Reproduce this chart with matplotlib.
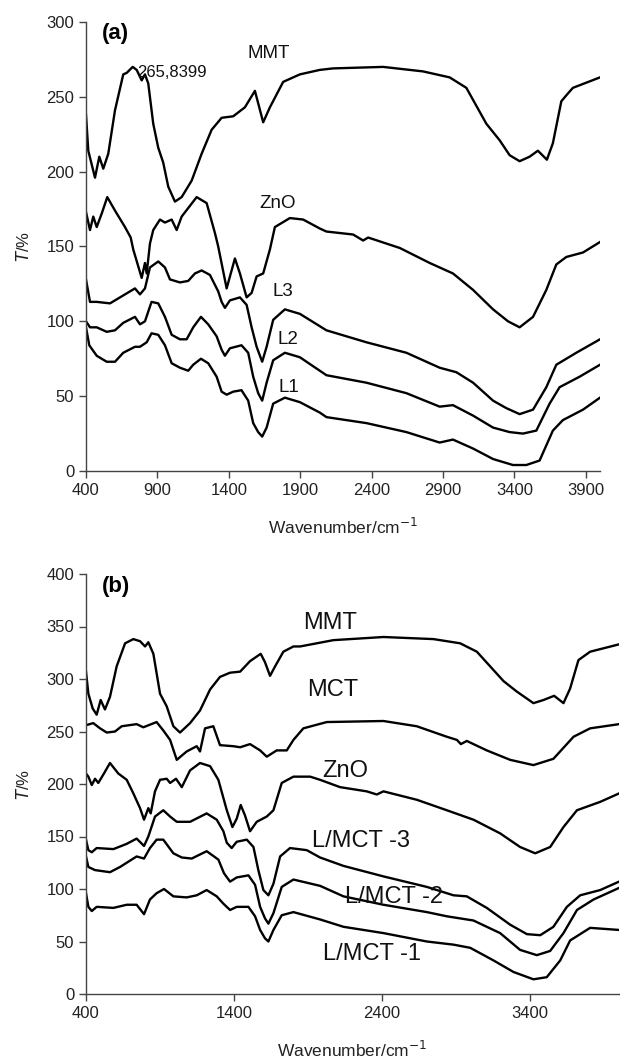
import matplotlib
matplotlib.use("Agg")
import matplotlib.pyplot as plt

plt.rcParams['font.family'] = ['Liberation Sans', 'DejaVu Sans']

# ---------------- panel (a) ----------------
a_mmt_x = [400, 416, 463, 493, 521, 556, 603, 661, 685, 727, 755, 790, 813, 836, 871, 906, 941, 976,
           1023, 1070, 1140, 1210, 1280, 1350, 1431, 1513, 1583, 1641, 1688, 1781, 1898, 2038, 2131,
           2481, 2760, 2947, 3064, 3204, 3297, 3367, 3437, 3507, 3565, 3628, 3670, 3729, 3764, 3810, 4000]
a_mmt_y = [238, 214, 196, 210, 202, 212, 241, 265, 266, 270, 268, 261, 265, 259, 232, 216, 206, 190,
           180, 183, 194, 212, 228, 236, 237, 243, 254, 233, 243, 260, 265, 268, 269,
           270, 267, 263, 256, 232, 221, 211, 207, 210, 214, 208, 219, 247, 251, 256, 263]

a_zno_x = [400, 428, 451, 475, 510, 549, 603, 673, 713, 731, 790, 813, 825, 848, 871, 918, 953, 1000,
           1035, 1070, 1175, 1245, 1303, 1326, 1385, 1443, 1478, 1525, 1560, 1595, 1641, 1688, 1723,
           1828, 1921, 2038, 2084, 2271, 2341, 2376, 2598, 2807, 2970, 3111, 3251, 3356, 3437, 3531,
           3624, 3694, 3764, 3881, 4000]
a_zno_y = [173, 161, 170, 163, 172, 183, 174, 163, 156, 148, 129, 139, 132, 152, 161, 168, 166, 168,
           161, 170, 183, 179, 159, 150, 122, 142, 132, 116, 119, 130, 132, 148, 163,
           169, 168, 162, 160, 158, 154, 156, 149, 139, 132, 121, 108, 100, 96, 103,
           121, 138, 143, 146, 153]

a_l3_x = [400, 428, 475, 568, 638, 743, 778, 813, 848, 906, 953, 988, 1058, 1116, 1163, 1210, 1268,
          1326, 1350, 1373, 1408, 1478, 1525, 1560, 1595, 1634, 1665, 1711, 1793, 1898, 2084, 2364,
          2644, 2877, 2994, 3111, 3251, 3344, 3437, 3531, 3624, 3694, 3834, 4000]
a_l3_y = [128, 113, 113, 112, 116, 122, 118, 122, 136, 140, 136, 128, 126, 127, 132, 134, 131,
          120, 113, 109, 114, 116, 111, 96, 83, 73, 83, 101, 108, 105, 94, 86,
          79, 69, 66, 59, 47, 42, 38, 41, 56, 71, 79, 88]

a_l2_x = [400, 428, 475, 545, 603, 661, 743, 778, 813, 859, 906, 953, 1000, 1058, 1105, 1151, 1205,
          1256, 1315, 1350, 1373, 1408, 1489, 1536, 1571, 1606, 1634, 1665, 1711, 1793, 1898, 2084,
          2364, 2644, 2877, 2970, 3111, 3251, 3367, 3460, 3554, 3647, 3717, 3857, 4000]
a_l2_y = [100, 96, 96, 93, 94, 99, 103, 98, 100, 113, 112, 103, 91, 88, 88, 96, 103,
          98, 90, 81, 77, 82, 84, 79, 63, 52, 47, 59, 74, 79, 76, 64,
          59, 52, 43, 44, 37, 29, 26, 25, 27, 45, 56, 63, 71]

a_l1_x = [400, 423, 475, 545, 603, 661, 743, 778, 825, 859, 906, 953, 1000, 1058, 1116, 1151, 1205,
          1256, 1315, 1350, 1385, 1431, 1489, 1536, 1571, 1606, 1634, 1665, 1711, 1793, 1898, 2038,
          2084, 2364, 2644, 2877, 2970, 3111, 3251, 3390, 3484, 3577, 3670, 3740, 3881, 4000]
a_l1_y = [96, 84, 77, 73, 73, 79, 83, 83, 86, 92, 91, 84, 72, 69, 67, 71, 75,
          72, 63, 53, 51, 53, 54, 47, 32, 26, 23, 29, 45, 49, 46, 39,
          36, 32, 26, 19, 21, 15, 8, 4, 4, 7, 27, 34, 41, 49]

a_series = [(a_mmt_x, a_mmt_y), (a_zno_x, a_zno_y), (a_l3_x, a_l3_y),
            (a_l2_x, a_l2_y), (a_l1_x, a_l1_y)]
a_labels = ["MMT", "ZnO", "L3", "L2", "L1", "265,8399"]
a_label_x = [1534, 1611, 1709, 1744, 1751, 757]
a_label_y = [279, 179, 120, 88, 56, 266]
a_xticks = [400, 900, 1400, 1900, 2400, 2900, 3400, 3900]
a_yticks = [0, 50, 100, 150, 200, 250, 300]

# ---------------- panel (b) ----------------
b_mmt_x = [400, 416, 445, 472, 499, 528, 562, 607, 664, 720, 765, 799, 821, 855, 900, 945, 990, 1035,
           1103, 1170, 1238, 1305, 1373, 1441, 1508, 1580, 1609, 1643, 1677, 1733, 1801, 1846, 2071,
           2409, 2747, 2927, 3040, 3130, 3220, 3310, 3422, 3490, 3562, 3625, 3670, 3726, 3805, 4000]
b_mmt_y = [307, 286, 272, 266, 280, 271, 283, 312, 334, 338, 336, 331, 335, 324, 286, 274, 255, 249,
           258, 270, 290, 302, 306, 307, 317, 324, 316, 303, 312, 326, 331, 331, 337,
           340, 338, 334, 326, 312, 298, 288, 277, 280, 284, 277, 291, 318, 326, 333]

b_mct_x = [400, 449, 495, 540, 596, 641, 742, 787, 877, 922, 968, 1013, 1080, 1148, 1170, 1204, 1260,
           1305, 1395, 1441, 1508, 1576, 1621, 1688, 1756, 1801, 1868, 2026, 2409, 2634, 2837, 2905,
           2932, 2972, 3107, 3265, 3422, 3557, 3693, 3805, 4000]
b_mct_y = [256, 258, 253, 249, 250, 255, 257, 254, 259, 251, 242, 223, 231, 236, 231, 253, 255,
           237, 236, 235, 238, 232, 226, 232, 232, 242, 253, 259, 260, 255, 245, 242,
           238, 241, 232, 223, 218, 224, 245, 253, 257]

b_zno_x = [400, 416, 439, 461, 483, 517, 562, 618, 675, 720, 765, 792, 821, 837, 866, 900, 945, 968,
           1008, 1047, 1103, 1170, 1238, 1294, 1351, 1389, 1418, 1445, 1474, 1508, 1553, 1621, 1666,
           1722, 1801, 1914, 1981, 2116, 2296, 2364, 2409, 2634, 2837, 3017, 3197, 3332, 3434, 3535,
           3625, 3716, 3873, 4000]
b_zno_y = [210, 207, 199, 205, 201, 209, 220, 210, 204, 191, 177, 166, 177, 172, 193, 204, 205, 201,
           205, 197, 213, 220, 217, 204, 175, 159, 167, 180, 170, 155, 164, 169, 175,
           201, 207, 207, 204, 197, 193, 190, 193, 185, 175, 166, 153, 140, 134, 140,
           159, 175, 183, 191]

b_l3_x = [400, 416, 439, 472, 585, 675, 742, 792, 821, 866, 922, 968, 1013, 1103, 1215, 1283, 1328,
          1351, 1384, 1418, 1486, 1531, 1564, 1598, 1632, 1666, 1711, 1778, 1891, 1981, 2139, 2409,
          2702, 2882, 2972, 3107, 3265, 3378, 3468, 3557, 3648, 3738, 3873, 4000]
b_l3_y = [147, 137, 135, 139, 138, 143, 148, 141, 150, 169, 175, 169, 164, 164, 172, 166, 155,
          144, 139, 145, 147, 140, 118, 99, 94, 105, 131, 139, 137, 130, 122, 112,
          102, 94, 93, 82, 66, 57, 56, 64, 83, 94, 99, 107]

b_l2_x = [400, 416, 461, 562, 630, 742, 792, 832, 877, 922, 990, 1047, 1114, 1215, 1294, 1332, 1373,
          1418, 1497, 1542, 1576, 1609, 1632, 1666, 1722, 1801, 1981, 2139, 2409, 2702, 2837, 3017,
          3197, 3332, 3445, 3535, 3625, 3716, 3828, 4000]
b_l2_y = [131, 121, 118, 116, 121, 131, 129, 139, 147, 147, 134, 130, 129, 136, 128, 115, 107,
          111, 113, 104, 83, 72, 67, 77, 102, 109, 103, 93, 85, 78, 74, 70,
          58, 42, 37, 41, 58, 80, 90, 101]

b_l1_x = [400, 416, 439, 472, 585, 675, 742, 792, 832, 877, 927, 990, 1080, 1148, 1215, 1283, 1328,
          1373, 1418, 1497, 1542, 1576, 1609, 1632, 1666, 1722, 1801, 1981, 2139, 2409, 2702, 2882,
          2995, 3152, 3287, 3422, 3512, 3603, 3670, 3805, 4000]
b_l1_y = [96, 83, 79, 83, 82, 85, 85, 76, 90, 96, 100, 93, 92, 94, 99, 93, 86,
          80, 83, 83, 74, 61, 53, 50, 61, 75, 78, 71, 64, 58, 50, 47,
          44, 32, 21, 14, 16, 32, 51, 63, 61]

b_series = [(b_mmt_x, b_mmt_y), (b_mct_x, b_mct_y), (b_zno_x, b_zno_y),
            (b_l3_x, b_l3_y), (b_l2_x, b_l2_y), (b_l1_x, b_l1_y)]
b_labels = ["MMT", "MCT", "ZnO", "L/MCT -3", "L/MCT -2", "L/MCT -1"]
b_label_x = [1866, 1893, 1995, 1927, 2150, 2001]
b_label_y = [353, 290, 212, 146, 92, 38]
b_xticks = [400, 1400, 2400, 3400]
b_yticks = [0, 50, 100, 150, 200, 250, 300, 350, 400]

AXIS_GREY = "#444444"


def style_axes(ax, xticks, yticks, xlim, ylim):
    ax.set_xlim(xlim)
    ax.set_ylim(ylim)
    ax.set_xticks(xticks)
    ax.set_yticks(yticks)
    for side in ("top", "right"):
        ax.spines[side].set_visible(False)
    for side in ("left", "bottom"):
        ax.spines[side].set_color(AXIS_GREY)
        ax.spines[side].set_linewidth(1.0)
    ax.tick_params(direction="out", length=5, width=1.0, colors=AXIS_GREY,
                   labelsize=12, labelcolor="#222222")
    ax.set_xlabel("Wavenumber/cm$^{-1}$", fontsize=12.5, color="#222222", labelpad=14)
    ax.set_ylabel("$T$/%", fontsize=12, color="#222222", labelpad=10)


fig = plt.figure(figsize=(6.2, 10.59), dpi=100)

ax_a = fig.add_axes([86 / 620, 1 - 471 / 1059, (600 - 86) / 620, (471 - 22) / 1059])
for xs, ys in a_series:
    ax_a.plot(xs, ys, color="black", lw=1.7, solid_joinstyle="round")
style_axes(ax_a, a_xticks, a_yticks, (400, 4000), (0, 300))
for i, lab in enumerate(a_labels):
    ax_a.text(a_label_x[i], a_label_y[i], lab, fontsize=12 if i == 5 else 13.5,
              va="center", ha="left", color="#111111")
ax_a.text(0.03, 0.975, "(a)", transform=ax_a.transAxes, fontsize=16,
          fontweight="bold", va="center", ha="left")

ax_b = fig.add_axes([86 / 620, 1 - 994 / 1059, (619 - 86) / 620, (994 - 574) / 1059])
for xs, ys in b_series:
    ax_b.plot(xs, ys, color="black", lw=1.7, solid_joinstyle="round")
style_axes(ax_b, b_xticks, b_yticks, (400, 4000), (0, 400))
for i, lab in enumerate(b_labels):
    ax_b.text(b_label_x[i], b_label_y[i], lab, fontsize=17,
              va="center", ha="left", color="#111111")
ax_b.text(0.03, 0.97, "(b)", transform=ax_b.transAxes, fontsize=16,
          fontweight="bold", va="center", ha="left")

fig.savefig("out.png", dpi=100)
